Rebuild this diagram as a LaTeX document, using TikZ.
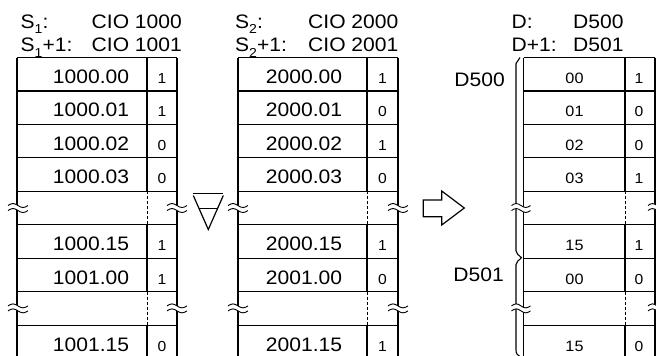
\documentclass[tikz,border=0pt]{standalone}
\usepackage{fontspec}
\setmainfont{Liberation Sans}[FakeStretch=1.08]
\newcommand\lowidx[1]{\raisebox{-0.28em}{\fontsize{13}{13}\selectfont #1}}
\tikzset{
  lbl/.style={anchor=base, inner sep=0pt, font=\fontsize{19.5}{20}\selectfont},
  dlbl/.style={anchor=base, inner sep=0pt, font=\fontsize{15}{16}\selectfont},
  val/.style={anchor=base, inner sep=0pt, font=\fontsize{14.5}{15}\selectfont},
  hdr/.style={anchor=base west, inner sep=0pt, font=\fontsize{19.5}{20}\selectfont},
  side/.style={anchor=base east, inner sep=0pt, font=\fontsize{19.5}{20}\selectfont},
  grid/.style={line width=1.2pt},
  gapdiv/.style={line width=1pt, dash pattern=on 3pt off 2pt},
  sym/.style={line width=1.2pt, line join=miter},
  brk/.pic={
    \fill[white] (-10,-2.5) sin (-5,-4.5) cos (0,-2.5) sin (5,-0.5) cos (10,-2.5)
       -- (10,2.5) sin (5,4.5) cos (0,2.5) sin (-5,0.5) cos (-10,2.5) -- cycle;
    \draw[line width=0.9pt] (-10,-2.5) sin (-5,-4.5) cos (0,-2.5) sin (5,-0.5) cos (10,-2.5);
    \draw[line width=0.9pt] (-10,2.5) sin (-5,0.5) cos (0,2.5) sin (5,4.5) cos (10,2.5);
  }
}
\begin{document}
\begin{tikzpicture}[x=1pt,y=-1pt]
\useasboundingbox (0,0) rectangle (656,356);
\clip (0,0) rectangle (656,356);
\def\T{57.5}\def\H{33.45}
% ---------- table grids ----------
\foreach \L/\M/\R/\tb in {17/147/177/a, 238/367/398/b, 523.5/625/655/c}{
  \draw[grid] (\L,\T) -- (\L,{\T+9*\H}) (\R,\T) -- (\R,{\T+9*\H});
  \foreach \k in {0,...,9}
    \draw[grid] (\L,{\T+\k*\H}) -- (\R,{\T+\k*\H});
  \draw[grid] (\M,\T) -- (\M,{\T+4*\H}) (\M,{\T+5*\H}) -- (\M,{\T+7*\H}) (\M,{\T+8*\H}) -- (\M,{\T+9*\H});
  \draw[gapdiv] (\M,{\T+4*\H}) -- (\M,{\T+5*\H}) (\M,{\T+7*\H}) -- (\M,{\T+8*\H});
}
% ---------- brace for D table ----------
\draw[line width=1.1pt] (520,57.5) -- (516,63.5) -- (516,251)
  .. controls (516,254) and (519,255) .. (521.5,257.7)
  .. controls (519,260.5) and (516,261.5) .. (516,264.5) -- (516,350)
  .. controls (516,353.5) and (517.5,355.5) .. (520.5,357);
% ---------- break marks ----------
\foreach \yy in {4,7}{
  \pgfmathsetmacro\cy{\T+(\yy+0.5)*\H}
  \pic at (18,\cy) {brk};
  \pic at (177,\cy) {brk};
  \pic at (238,\cy) {brk};
  \pic at (398,\cy) {brk};
  \pic[xscale=0.95] at (521,\cy) {brk};
  \pic[xscale=0.9] at (657,\cy) {brk};
}
% ---------- table texts ----------
\foreach \r/\lab/\v in {0/1000.00/1, 1/1000.01/1, 2/1000.02/0, 3/1000.03/0, 5/1000.15/1, 6/1001.00/1, 8/1001.15/0}{
  \node[lbl] (al\r) at (91,{\T+\r*\H+26}) {\lab};
  \node[val] (av\r) at (162,{\T+\r*\H+26}) {\v};
}
\foreach \r/\lab/\v in {0/2000.00/1, 1/2000.01/0, 2/2000.02/1, 3/2000.03/0, 5/2000.15/1, 6/2001.00/0, 8/2001.15/1}{
  \node[lbl] (bl\r) at (304,{\T+\r*\H+26}) {\lab};
  \node[val] (bv\r) at (382.5,{\T+\r*\H+26}) {\v};
}
\foreach \r/\lab/\v in {0/00/1, 1/01/0, 2/02/0, 3/03/1, 5/15/1, 6/00/0, 8/15/0}{
  \node[dlbl] (cl\r) at (574.5,{\T+\r*\H+26}) {\lab};
  \node[val] (cv\r) at (639,{\T+\r*\H+26}) {\v};
}
% ---------- headers ----------
\node[hdr] (h1a) at (20.5,28.3) {S\lowidx{1}:};
\node[hdr] (h1b) at (91.5,28.3) {CIO 1000};
\node[hdr] (h1c) at (20.5,51.7) {S\lowidx{1}+1:};
\node[hdr] (h1d) at (91.5,51.7) {CIO 1001};
\node[hdr] (h2a) at (235,28.3) {S\lowidx{2}:};
\node[hdr] (h2b) at (308,28.3) {CIO 2000};
\node[hdr] (h2c) at (235,51.7) {S\lowidx{2}+1:};
\node[hdr] (h2d) at (308,51.7) {CIO 2001};
\node[hdr] (h3a) at (511.5,28.3) {D:};
\node[hdr] (h3b) at (573,28.3) {D500};
\node[hdr] (h3c) at (511.5,51.7) {D+1:};
\node[hdr] (h3d) at (573,51.7) {D501};
\node[side] (d500) at (505,86.8) {D500};
\node[side] (d501) at (504,281.8) {D501};
% ---------- XNOR symbol ----------
\draw[sym] (192.7,193.3) -- (223.3,193.3);
\draw[sym] (193.3,195.5) -- (208.3,229.5) -- (223.3,195.5);
\draw[sym] (199,208.3) -- (217.6,208.3);
% ---------- hollow arrow ----------
\draw[sym] (423.3,200) -- (441.7,200) -- (441.7,191) -- (464.3,208)
  -- (441.7,225) -- (441.7,216.7) -- (423.3,216.7) -- cycle;
\end{tikzpicture}
\end{document}
